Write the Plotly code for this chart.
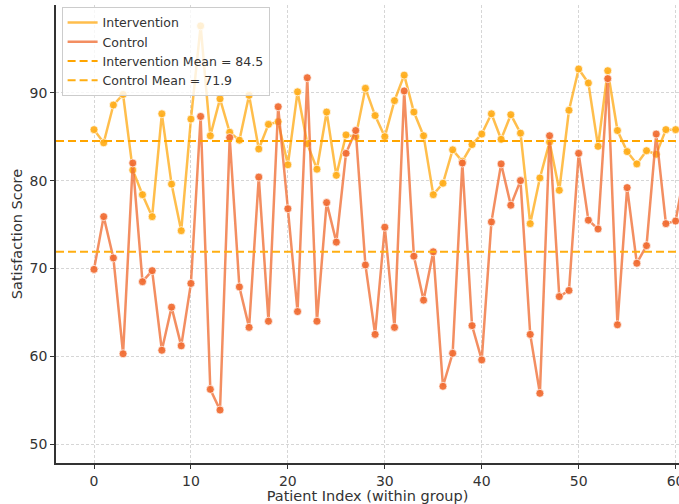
import plotly.graph_objects as go

# ---- data ----
patient_index = list(range(62))
intervention = [85.8, 84.3, 88.6, 89.8, 81.2, 78.4, 75.9, 87.6, 79.6, 74.3,
                87.0, 97.6, 85.1, 89.3, 85.5, 84.6, 89.7, 83.6, 86.4, 86.7,
                81.8, 90.1, 84.2, 81.3, 87.8, 80.6, 85.2, 85.0, 90.5, 87.4,
                85.0, 89.1, 92.0, 87.8, 85.1, 78.4, 79.7, 83.5, 82.2, 84.1,
                85.3, 87.6, 84.7, 87.5, 85.4, 75.1, 80.3, 84.4, 78.9, 88.0,
                92.7, 91.1, 83.9, 92.5, 85.7, 83.3, 81.9, 83.4, 83.0, 85.8,
                85.8, 86.0]
control = [69.9, 75.9, 71.2, 60.3, 82.0, 68.5, 69.75, 60.7, 65.6, 61.2,
           68.3, 87.3, 56.25, 53.9, 84.9, 67.9, 63.3, 80.4, 64.0, 88.4,
           76.8, 65.1, 91.7, 64.0, 77.5, 73.0, 83.1, 85.7, 70.4, 62.5,
           74.7, 63.3, 90.2, 71.4, 66.4, 71.9, 56.6, 60.35, 82.0, 63.5,
           59.6, 75.3, 81.9, 77.2, 80.0, 62.5, 55.8, 85.1, 66.8, 67.5,
           83.1, 75.5, 74.5, 91.6, 63.6, 79.2, 70.6, 72.6, 85.3, 75.1,
           75.4, 81.5]
intervention_mean = 84.5
control_mean = 71.9
x_ticks = [0, 10, 20, 30, 40, 50, 60]
y_ticks = [50, 60, 70, 80, 90]
x_range = [-3.92, 60.35]
y_range = [47.87, 99.98]

FONT = "DejaVu Sans"
INT_LINE = "rgba(255,172,25,0.78)"
INT_MARK = "rgba(255,172,25,0.92)"
CTL_LINE = "rgba(240,110,52,0.78)"
CTL_MARK = "rgba(240,108,50,0.93)"

fig = go.Figure()

# Intervention
fig.add_trace(go.Scatter(x=patient_index, y=intervention, mode="lines",
                         name="Intervention", line=dict(color=INT_LINE, width=2.5)))
fig.add_trace(go.Scatter(x=patient_index, y=intervention, mode="markers", showlegend=False,
                         marker=dict(color=INT_MARK, size=8,
                                     line=dict(color="rgba(255,255,255,0.7)", width=1))))
# Control
fig.add_trace(go.Scatter(x=patient_index, y=control, mode="lines",
                         name="Control", line=dict(color=CTL_LINE, width=2.5)))
fig.add_trace(go.Scatter(x=patient_index, y=control, mode="markers", showlegend=False,
                         marker=dict(color=CTL_MARK, size=8,
                                     line=dict(color="rgba(255,255,255,0.7)", width=1))))

# Mean lines
fig.add_shape(type="line", xref="paper", x0=0, x1=1, yref="y",
              y0=intervention_mean, y1=intervention_mean,
              line=dict(color="#FFA500", width=2, dash="8px,4px"),
              showlegend=True, name=f"Intervention Mean = {intervention_mean}")
fig.add_shape(type="line", xref="paper", x0=0, x1=1, yref="y",
              y0=control_mean, y1=control_mean,
              line=dict(color="#FFAE12", width=2, dash="8px,4px"),
              showlegend=True, name=f"Control Mean = {control_mean}")

axis_common = dict(
    showgrid=True, gridcolor="#d6d6d6", gridwidth=1, griddash="3px,2px",
    showline=True, linecolor="#333333", linewidth=1.5, mirror=False,
    ticks="outside", ticklen=4, tickwidth=1, tickcolor="#333333",
    tickfont=dict(family=FONT, size=14, color="#333333"),
    zeroline=False, automargin=False,
)

fig.update_xaxes(range=x_range, tickvals=x_ticks, ticklabeloverflow="allow",
                 title=dict(text="Patient Index (within group)",
                            font=dict(family=FONT, size=14.5, color="#333333"),
                            standoff=2),
                 **axis_common)
fig.update_yaxes(range=y_range, tickvals=y_ticks,
                 title=dict(text="Satisfaction Score",
                            font=dict(family=FONT, size=14.5, color="#333333"),
                            standoff=4),
                 **axis_common)

fig.update_layout(
    width=679, height=504,
    margin=dict(l=56, r=0, t=5, b=41, autoexpand=False),
    paper_bgcolor="white", plot_bgcolor="white",
    font=dict(family=FONT, color="#333333"),
    legend=dict(x=0.009, y=0.996, xanchor="left", yanchor="top",
                bgcolor="rgba(255,255,255,0.8)", bordercolor="#cccccc", borderwidth=1,
                font=dict(family=FONT, size=12.5, color="#333333"),
                tracegroupgap=0),
    showlegend=True,
)

fig.write_html("out.html", config={"displayModeBar": False},
               post_script="document.body.style.margin='0';document.body.style.overflow='hidden';")
